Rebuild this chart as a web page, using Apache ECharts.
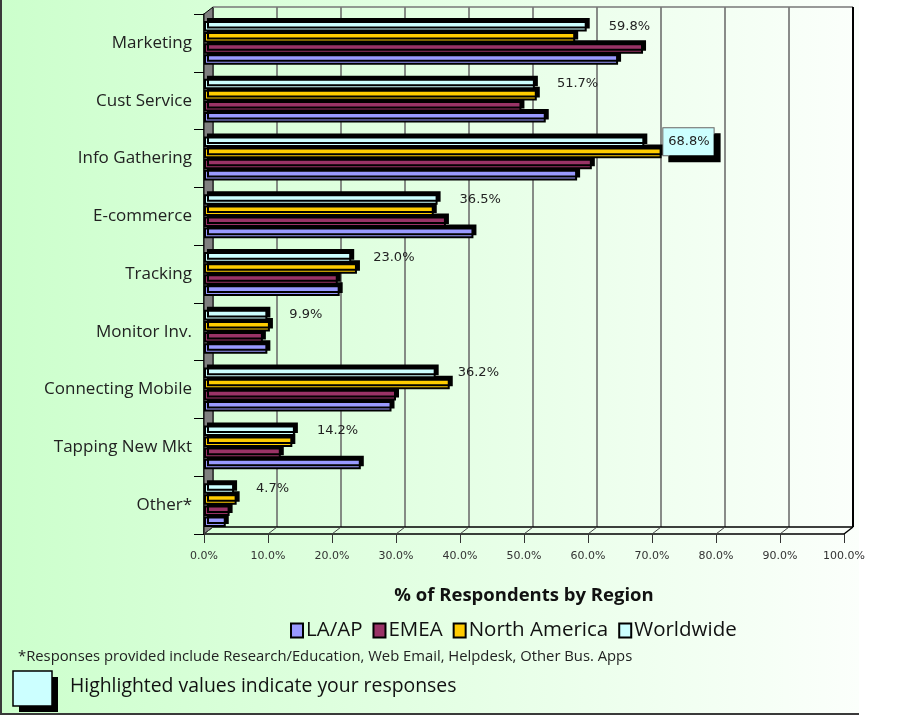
<!DOCTYPE html>
<html>
<head>
<meta charset="utf-8">
<script src="https://cdn.jsdelivr.net/npm/echarts@6/dist/echarts.min.js"></script>
<style>
  html, body { margin: 0; padding: 0; background: #ffffff; }
  #wrap { position: relative; width: 921px; height: 715px; }
  #bg { position: absolute; left: 0; top: 0; width: 857px; height: 713px;
        background: linear-gradient(to right, #ccffcc 0%, #fbfffb 100%);
        border-left: 2px solid #3a3a3a; border-bottom: 2px solid #3a3a3a; }
  #chart { position: absolute; left: 0; top: 0; width: 921px; height: 715px; }
</style>
</head>
<body>
<div id="wrap"><div id="bg"></div><div id="chart"></div></div>
<script>
// ---- data ----
const categories = ['Marketing', 'Cust Service', 'Info Gathering', 'E-commerce', 'Tracking',
                    'Monitor Inv.', 'Connecting Mobile', 'Tapping New Mkt', 'Other*'];
const laap      = [64.7, 53.4, 58.3, 42.1, 21.2, 9.9, 29.3, 24.5, 3.4];
const emea      = [68.6, 49.6, 60.6, 37.8, 20.9, 9.2, 30.0, 12.0, 4.0];
const northAm   = [58.0, 52.0, 71.5, 35.9, 23.9, 10.3, 38.4, 13.8, 5.1];
const worldwide = [59.8, 51.7, 68.8, 36.5, 23.0, 9.9, 36.2, 14.2, 4.7];
const seriesNames = ['LA/AP', 'EMEA', 'North America', 'Worldwide'];
const highlightIndex = 2;
const xTicks = [0, 10, 20, 30, 40, 50, 60, 70, 80, 90, 100];
const axisTitle = '% of Respondents by Region';
const footnote = '*Responses provided include Research/Education, Web Email, Helpdesk, Other Bus. Apps';
const highlightNote = 'Highlighted values indicate your responses';

// ---- layout constants ----
const FRONT = { left: 204, top: 14, width: 640, height: 520 };
const DX = 9, DY = 7;
const BACK = { left: FRONT.left + DX, top: FRONT.top - DY, width: 640, height: 520 };
const TXT = "'Open Sans', 'Noto Sans', sans-serif";
const colors = ['#9999ff', '#993366', '#ffcc00', '#ccffff'];

const chart = echarts.init(document.getElementById('chart'), null, { renderer: 'canvas' });

function barSeries(name, data, color, z, withLabel) {
  const s = {
    name: name, type: 'bar', xAxisIndex: 1, yAxisIndex: 1,
    barCategoryGap: '24%', barGap: '5%',
    itemStyle: { color: color, borderColor: '#000', borderWidth: 2,
                 shadowColor: '#000', shadowOffsetX: 3, shadowOffsetY: -3, shadowBlur: 0 },
    emphasis: { disabled: true },
    z: z,
    data: data.slice()
  };
  if (withLabel) {
    s.label = { show: true, position: 'right', distance: 22,
                formatter: p => p.value.toFixed(1) + '%',
                fontFamily: 'DejaVu Sans', fontSize: 13, color: '#222' };
    s.data = data.map((v, i) => i === highlightIndex ? {
      value: v,
      label: { backgroundColor: '#ccffff', borderColor: '#666', borderWidth: 1,
               padding: [7, 4, 7, 5], shadowColor: '#000', shadowOffsetX: 6, shadowOffsetY: 6,
               shadowBlur: 0, distance: 19 }
    } : v);
  }
  return s;
}

const option = {
  animation: false,
  grid: [
    Object.assign({ containLabel: false }, BACK),
    Object.assign({ containLabel: false }, FRONT)
  ],
  xAxis: [
    { gridIndex: 0, type: 'value', min: 0, max: 100, interval: 10,
      axisLine: { show: false }, axisTick: { show: false }, axisLabel: { show: false },
      splitLine: { show: true, lineStyle: { color: '#666', width: 1.5 } } },
    { gridIndex: 1, type: 'value', min: 0, max: 100, interval: 10,
      axisLine: { show: true, onZero: false, lineStyle: { color: '#000', width: 1.5 } },
      axisTick: { show: true, length: 9, lineStyle: { color: '#333', width: 1 } },
      axisLabel: { formatter: v => v.toFixed(1) + '%', fontFamily: 'DejaVu Sans',
                   fontSize: 11, color: '#333', margin: 17 },
      splitLine: { show: false },
      name: axisTitle, nameLocation: 'middle', nameGap: 52,
      nameTextStyle: { fontFamily: TXT, fontWeight: 'bold', fontSize: 18.5, color: '#111' } }
  ],
  yAxis: [
    { gridIndex: 0, type: 'category', data: categories, show: false },
    { gridIndex: 1, type: 'category', data: categories, inverse: true,
      axisLine: { show: true, lineStyle: { color: '#000', width: 1.5 } },
      axisTick: { show: true, length: 10, lineStyle: { color: '#000', width: 1 } },
      axisLabel: { fontFamily: TXT, fontSize: 17, color: '#222', margin: 12 } }
  ],
  legend: {
    data: seriesNames, left: 285, top: 615, itemWidth: 12, itemHeight: 14, itemGap: 10,
    icon: 'rect',
    itemStyle: { borderColor: '#000', borderWidth: 2, shadowBlur: 0, shadowOffsetX: 0, shadowOffsetY: 0 },
    textStyle: { fontFamily: TXT, fontSize: 20.5, color: '#111', padding: [0, 0, 0, -2] }
  },
  series: [
    barSeries(seriesNames[3], worldwide, colors[3], 8, true),
    barSeries(seriesNames[2], northAm, colors[2], 7, false),
    barSeries(seriesNames[1], emea, colors[1], 6, false),
    barSeries(seriesNames[0], laap, colors[0], 5, false)
  ]
};
chart.setOption(option);

// ---- 3D walls / floor from axis scales ----
const g = [];
const x0 = chart.convertToPixel({ xAxisIndex: 1 }, 0);
const yTopF = FRONT.top, yBotF = FRONT.top + FRONT.height;
g.push({ type: 'polygon', z: 1, shape: { points: [[x0, yTopF], [x0 + DX, yTopF - DY], [x0 + DX, yBotF - DY], [x0, yBotF]] },
         style: { fill: '#808080', stroke: '#000', lineWidth: 1 } });
g.push({ type: 'line', z: 1, shape: { x1: BACK.left, y1: BACK.top, x2: BACK.left + BACK.width, y2: BACK.top },
         style: { stroke: '#777', lineWidth: 1.5 } });
g.push({ type: 'line', z: 1, shape: { x1: BACK.left + BACK.width, y1: BACK.top, x2: BACK.left + BACK.width, y2: BACK.top + BACK.height },
         style: { stroke: '#000', lineWidth: 2 } });
g.push({ type: 'line', z: 1, shape: { x1: BACK.left, y1: BACK.top + BACK.height, x2: BACK.left + BACK.width, y2: BACK.top + BACK.height },
         style: { stroke: '#000', lineWidth: 1.5 } });
xTicks.forEach(v => {
  const xf = chart.convertToPixel({ xAxisIndex: 1 }, v);
  g.push({ type: 'line', z: 1, shape: { x1: xf, y1: yBotF, x2: xf + DX, y2: yBotF - DY },
           style: { stroke: v === 100 ? '#000' : '#444', lineWidth: v === 100 ? 1.5 : 1 } });
});
g.push({ type: 'text', z: 10, x: 18, y: 657,
         style: { text: footnote, font: "14.8px 'Open Sans', sans-serif", fill: '#222', verticalAlign: 'middle' } });
g.push({ type: 'rect', z: 10, shape: { x: 19, y: 677, width: 39, height: 35 },
         style: { fill: '#000', lineWidth: 0 } });
g.push({ type: 'rect', z: 11, shape: { x: 13, y: 671, width: 39, height: 35 },
         style: { fill: '#ccffff', stroke: '#000', lineWidth: 1.5 } });
g.push({ type: 'text', z: 10, x: 70, y: 686,
         style: { text: highlightNote, font: "19.4px 'Open Sans', sans-serif", fill: '#111', verticalAlign: 'middle' } });
chart.setOption({ graphic: { elements: g } });
</script>
</body>
</html>
